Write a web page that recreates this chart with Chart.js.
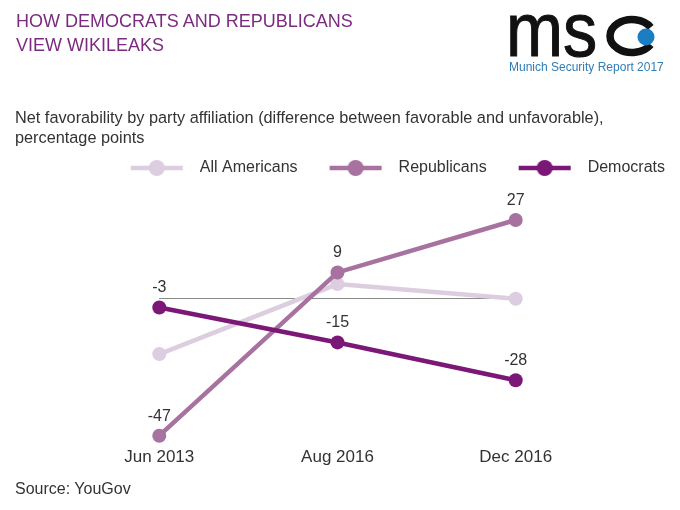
<!DOCTYPE html>
<html>
<head>
<meta charset="utf-8">
<script src="https://cdn.jsdelivr.net/npm/chart.js@4.4.0/dist/chart.umd.min.js"></script>
<style>
html,body{margin:0;padding:0;background:#fff;}
#wrap{position:relative;width:680px;height:510px;overflow:hidden;font-family:"Liberation Sans",Arial,sans-serif;}
#c{position:absolute;left:0;top:0;}
.title{position:absolute;left:16px;top:9px;font-size:18px;line-height:24px;color:#7b2b7f;white-space:nowrap;}
.sub{position:absolute;left:15px;top:108px;font-size:16.3px;line-height:19.5px;color:#333;white-space:nowrap;}
.src{position:absolute;left:15px;top:479px;font-size:16px;line-height:19.5px;color:#333;}
.ms{position:absolute;left:505.5px;top:-20.3px;font-size:76px;font-weight:normal;color:#111;transform:scaleX(0.9);transform-origin:0 0;line-height:100px;white-space:nowrap;-webkit-text-stroke:1px #111;}
.logo-svg{position:absolute;left:600px;top:10px;}
.msr{position:absolute;left:509px;top:60px;font-size:12px;line-height:14px;color:#2f7db6;white-space:nowrap;}
</style>
</head>
<body>
<div id="wrap">
  <canvas id="c" width="680" height="510"></canvas>
  <div class="title">HOW DEMOCRATS AND REPUBLICANS<br>VIEW WIKILEAKS</div>
  <div class="ms">ms</div>
  <svg class="logo-svg" width="70" height="52" viewBox="0 0 70 52">
    <path d="M 50.7 17.3 A 22 16.5 0 1 0 50.7 34.7" fill="none" stroke="#111" stroke-width="7.5"/>
    <circle cx="46" cy="27" r="8.5" fill="#1b7ec2"/>
  </svg>
  <div class="msr">Munich Security Report 2017</div>
  <div class="sub">Net favorability by party affiliation (difference between favorable and unfavorable),<br>percentage points</div>
  <div class="src">Source: YouGov</div>
</div>
<script>
// ---- data ----
const categories = ['Jun 2013', 'Aug 2016', 'Dec 2016'];
const seriesNames = ['All Americans', 'Republicans', 'Democrats'];
const allAmericans = [-19, 5, 0];
const republicans = [-47, 9, 27];
const democrats = [-3, -15, -28];
const yMin = -50;
const yMax = 38.66;

// ---- style ----
const FONT = '"Liberation Sans", Arial, sans-serif';
const colAll = '#dccde0';
const colRep = '#a7729f';
const colDem = '#7b1777';

function makeIcon(color) {
  const cv = document.createElement('canvas');
  cv.width = 83; cv.height = 18;
  const g = cv.getContext('2d');
  g.strokeStyle = color; g.lineWidth = 4.5;
  g.beginPath(); g.moveTo(22, 9); g.lineTo(74, 9); g.stroke();
  g.fillStyle = color;
  g.beginPath(); g.arc(48, 9, 8, 0, Math.PI * 2); g.fill();
  return cv;
}
const icons = [makeIcon(colAll), makeIcon(colRep), makeIcon(colDem)];

const valueLabels = {
  id: 'valueLabels',
  afterDatasetsDraw(chart) {
    const ctx = chart.ctx;
    ctx.save();
    ctx.font = '16px ' + FONT;
    ctx.fillStyle = '#333';
    ctx.textAlign = 'center';
    ctx.textBaseline = 'middle';
    chart.data.datasets.forEach((ds, i) => {
      if (!ds.showValues) return;
      const meta = chart.getDatasetMeta(i);
      meta.data.forEach((el, j) => {
        ctx.fillText(String(ds.data[j]), el.x, el.y - 19.5);
      });
    });
    ctx.restore();
  }
};

function ds(label, data, color, order, showValues) {
  return {
    label, data, order, showValues,
    borderColor: color, backgroundColor: color,
    pointBackgroundColor: color, pointBorderColor: color,
    borderWidth: 4.5, pointRadius: 7, pointHoverRadius: 7, pointBorderWidth: 0,
    tension: 0, clip: false
  };
}

new Chart(document.getElementById('c'), {
  type: 'line',
  data: {
    labels: categories,
    datasets: [
      ds(seriesNames[0], allAmericans, colAll, 2, false),
      ds(seriesNames[1], republicans, colRep, 1, true),
      ds(seriesNames[2], democrats, colDem, 0, true)
    ]
  },
  options: {
    responsive: false,
    animation: false,
    devicePixelRatio: 1,
    layout: { padding: { top: 150, right: 5, left: 0, bottom: 39.15 } },
    plugins: {
      tooltip: { enabled: false },
      legend: {
        position: 'top',
        align: 'end',
        labels: {
          font: { family: FONT, size: 16 },
          color: '#333',
          padding: 10,
          usePointStyle: true,
          pointStyleWidth: 83,
          generateLabels: (chart) => chart.data.datasets.map((d, i) => ({
            text: d.label,
            pointStyle: icons[i],
            fillStyle: d.borderColor,
            strokeStyle: d.borderColor,
            lineWidth: 0,
            fontColor: '#333',
            hidden: false,
            datasetIndex: i
          }))
        }
      }
    },
    scales: {
      x: {
        offset: false,
        grid: { display: false, drawTicks: false },
        border: { display: false },
        ticks: { font: { family: FONT, size: 17 }, color: '#333', padding: 3, maxRotation: 0, autoSkip: false }
      },
      y: {
        position: 'left',
        min: yMin, max: yMax,
        afterFit(s) { s.width = 159.3; },
        ticks: { display: false, stepSize: 10 },
        grid: {
          drawTicks: false,
          lineWidth: 1,
          color: (c) => (c.tick && c.tick.value === 0) ? '#8a8a8a' : 'rgba(0,0,0,0)'
        },
        border: { display: false }
      },
      y2: {
        position: 'right',
        afterFit(s) { s.width = 159.3; },
        ticks: { display: false },
        grid: { display: false, drawTicks: false },
        border: { display: false }
      }
    }
  },
  plugins: [valueLabels]
});
</script>
</body>
</html>
